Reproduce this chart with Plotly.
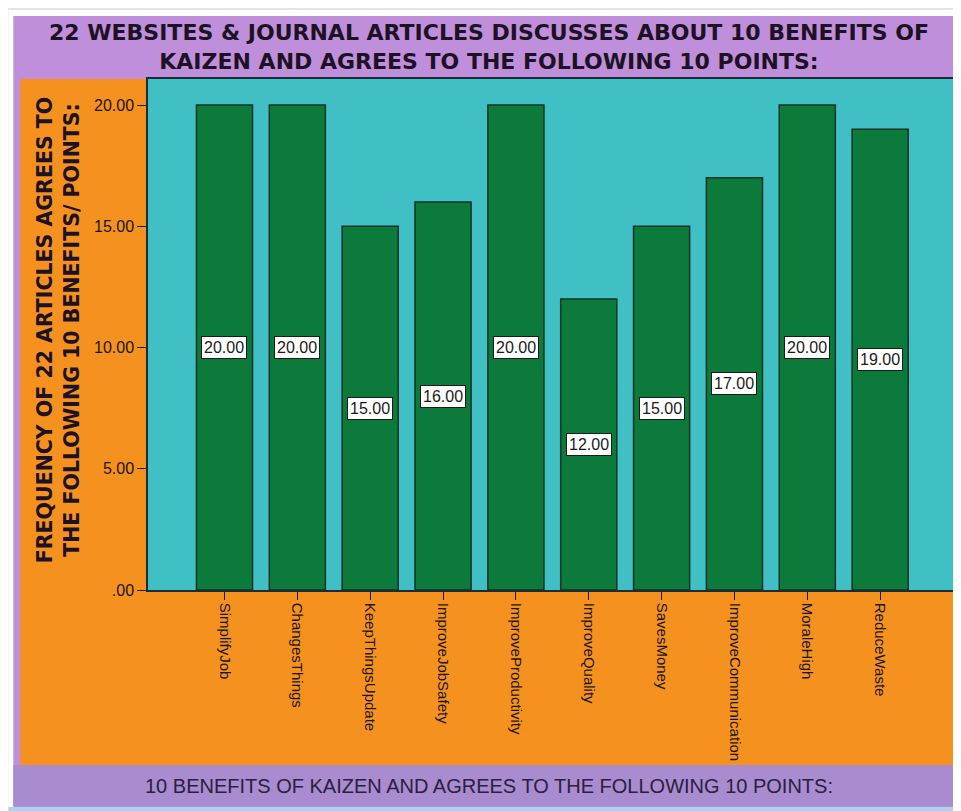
import plotly.graph_objects as go

categories = ["SimplifyJob", "ChangesThings", "KeepThingsUpdate", "ImproveJobSafety",
              "ImproveProductivity", "ImproveQuality", "SavesMoney",
              "ImproveCommunication", "MoraleHigh", "ReduceWaste"]
values = [20, 20, 15, 16, 20, 12, 15, 17, 20, 19]
y_ticks = [0, 5, 10, 15, 20]
y_tick_labels = [".00", "5.00", "10.00", "15.00", "20.00"]

title_text = "<b>22 WEBSITES & JOURNAL ARTICLES DISCUSSES ABOUT 10 BENEFITS OF<br>KAIZEN AND AGREES TO THE FOLLOWING 10 POINTS:</b>"
y_title = "<b>FREQUENCY OF 22 ARTICLES AGREES TO<br>THE FOLLOWING 10 BENEFITS/ POINTS:</b>"
x_title = "10 BENEFITS OF KAIZEN AND AGREES TO THE FOLLOWING 10 POINTS:"

# page body has an 8px margin, so the figure is drawn 8px in from the top-left
OFF = 8
W, H = 961 - OFF, 811 - OFF
L, R, T, B = 148, 955, 79, 590  # plot area in page pixels


def px(x):
    return (x - L) / (R - L)


def py(y):
    return (B - y) / (B - T)


FONT = "Liberation Sans, Arial, sans-serif"
WIDE = "DejaVu Sans, Verdana, sans-serif"

fig = go.Figure()
fig.add_trace(go.Bar(
    x=categories, y=values, width=0.77,
    marker=dict(color="#0b7a3b", line=dict(color="#123226", width=1.5)),
    hoverinfo="x+y",
))

shapes = []


def rect(x0, y0, x1, y1, color):
    shapes.append(dict(type="rect", xref="paper", yref="paper", layer="below",
                       x0=px(x0), x1=px(x1), y0=py(y1), y1=py(y0),
                       fillcolor=color, line=dict(width=0)))


rect(8, 10, 961, 811, "#ffffff")
rect(13, 16, 958, 808, "#bf8fdb")
rect(20, 79, 955, 765, "#f5921f")
rect(L, T, R, B, "#40bfc5")
rect(13, 765, 958, 806, "#a98bcf")
rect(8, 807, 961, 811, "#a9d3ee")

annotations = []
for c, v in zip(categories, values):
    annotations.append(dict(x=c, y=v / 2, xref="x", yref="y", text=f"{v:.2f}",
                            showarrow=False, bgcolor="#ffffff", bordercolor="#1a1a1a",
                            borderwidth=1, borderpad=2,
                            font=dict(family=FONT, size=16, color="#1a1a1a")))

annotations.append(dict(x=px(490), y=py(47), xref="paper", yref="paper",
                        text=title_text, showarrow=False, xanchor="center", yanchor="middle",
                        font=dict(family=WIDE, size=22, color="#1c1224")))
annotations.append(dict(x=px(58), y=py(330), xref="paper", yref="paper",
                        text=y_title, showarrow=False, textangle=-90,
                        xanchor="center", yanchor="middle",
                        font=dict(family=WIDE, size=20.5, color="#1c1224")))
annotations.append(dict(x=px(490), y=py(786), xref="paper", yref="paper",
                        text=x_title, showarrow=False, xanchor="center", yanchor="middle",
                        font=dict(family=FONT, size=20, color="#2a2040")))

fig.update_layout(
    width=W, height=H,
    margin=dict(l=L - OFF, r=961 - R, t=T - OFF, b=811 - B),
    paper_bgcolor="#e4e4e4",
    plot_bgcolor="rgba(0,0,0,0)",
    showlegend=False,
    shapes=shapes,
    annotations=annotations,
    xaxis=dict(
        range=[-1.05, 10.0], showgrid=False, tickangle=90,
        ticks="outside", ticklen=8, tickcolor="#1a1a1a", tickwidth=1.2,
        showline=True, linecolor="#1e2b36", linewidth=1.5, mirror=True,
        tickfont=dict(family=FONT, size=15, color="#1a1410"),
    ),
    yaxis=dict(
        range=[0, (B - T) / ((B - 105) / 20)], showgrid=False, zeroline=False,
        tickmode="array", tickvals=y_ticks, ticktext=y_tick_labels,
        ticks="outside", ticklen=9, tickcolor="#1a1a1a", tickwidth=1.2,
        showline=True, linecolor="#1e2b36", linewidth=1.5, mirror=True,
        tickfont=dict(family=FONT, size=16, color="#1a1410"),
    ),
)

fig.write_html("out.html")
